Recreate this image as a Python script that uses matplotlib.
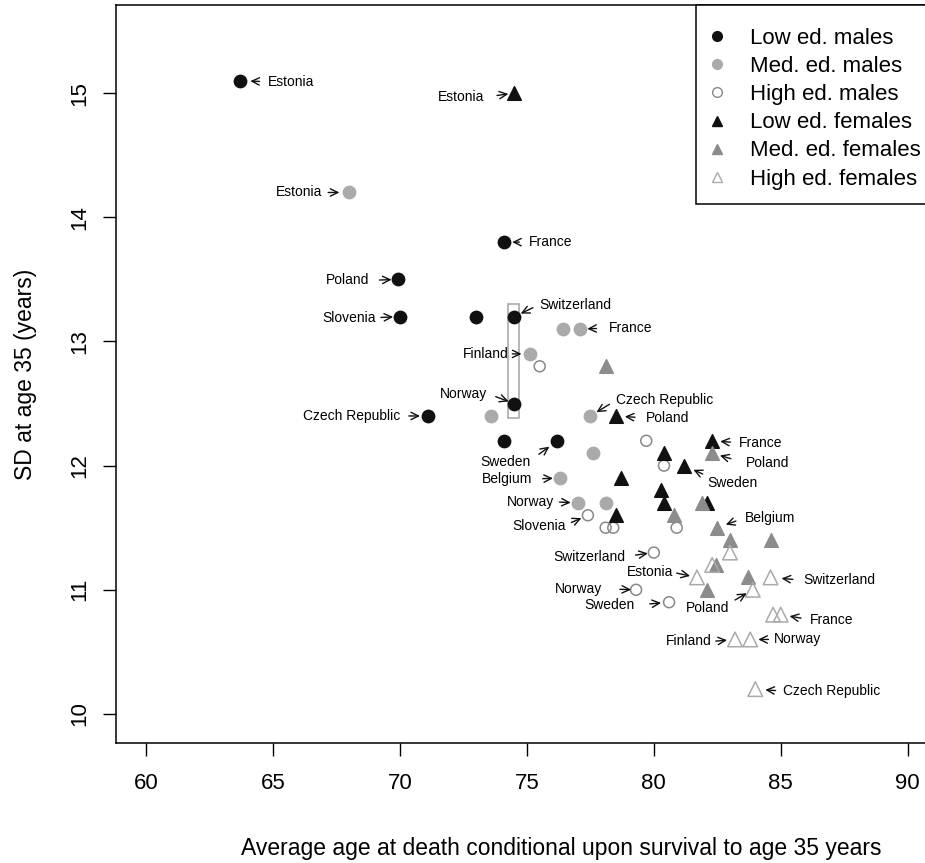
import matplotlib
matplotlib.use("Agg")
import matplotlib.pyplot as plt
from matplotlib.lines import Line2D
from matplotlib.patches import Rectangle

plt.rcParams["font.family"] = ["Liberation Sans", "DejaVu Sans"]

# values (x = average age at death, y = SD at age 35)
low_m_x = [63.7, 74.1, 69.9, 70.0, 73.0, 74.5, 74.5, 71.1, 74.1, 76.2]
low_m_y = [15.1, 13.8, 13.5, 13.2, 13.2, 13.2, 12.5, 12.4, 12.2, 12.2]
low_m_c = ["Estonia", "France", "Poland", "Slovenia", None, "Switzerland",
           "Norway", "Czech Republic", None, "Sweden"]

med_m_x = [68.0, 76.4, 77.1, 75.1, 77.5, 73.6, 77.6, 76.3, 77.0, 78.1]
med_m_y = [14.2, 13.1, 13.1, 12.9, 12.4, 12.4, 12.1, 11.9, 11.7, 11.7]
med_m_c = ["Estonia", None, "France", "Finland", "Czech Republic", None,
           None, "Belgium", "Norway", None]

high_m_x = [75.5, 79.7, 80.4, 77.4, 78.1, 78.4, 80.9, 80.0, 79.3, 80.6]
high_m_y = [12.8, 12.2, 12.0, 11.6, 11.5, 11.5, 11.5, 11.3, 11.0, 10.9]
high_m_c = [None, None, None, "Slovenia", None, None, None, "Switzerland",
            "Norway", "Sweden"]

low_f_x = [74.5, 78.5, 82.3, 80.4, 81.2, 78.7, 80.3, 80.4, 82.1, 78.5]
low_f_y = [15.0, 12.4, 12.2, 12.1, 12.0, 11.9, 11.8, 11.7, 11.7, 11.6]
low_f_c = ["Estonia", "Poland", "France", None, "Sweden", None, None, None,
           None, None]

med_f_x = [78.1, 82.3, 81.9, 80.8, 82.5, 83.0, 84.6, 82.45, 83.7, 82.1]
med_f_y = [12.8, 12.1, 11.7, 11.6, 11.5, 11.4, 11.4, 11.2, 11.1, 11.0]
med_f_c = [None, "Poland", None, None, "Belgium", None, None, None, None, None]

high_f_x = [83.0, 82.3, 81.7, 84.6, 83.9, 84.7, 85.0, 83.2, 83.8, 84.0]
high_f_y = [11.3, 11.2, 11.1, 11.1, 11.0, 10.8, 10.8, 10.6, 10.6, 10.2]
high_f_c = [None, None, "Estonia", "Switzerland", "Poland", None, "France",
            "Finland", "Norway", "Czech Republic"]

group_names = ["Low ed. males", "Med. ed. males", "High ed. males",
               "Low ed. females", "Med. ed. females", "High ed. females"]

# highlighted Swiss/Norwegian low educated males
box_x = [74.25, 74.68]
box_y = [12.38, 13.30]

groups = {
    "low_m": (low_m_x, low_m_y, low_m_c),
    "med_m": (med_m_x, med_m_y, med_m_c),
    "high_m": (high_m_x, high_m_y, high_m_c),
    "low_f": (low_f_x, low_f_y, low_f_c),
    "med_f": (med_f_x, med_f_y, med_f_c),
    "high_f": (high_f_x, high_f_y, high_f_c),
}

# marker styles: (marker, face, edge, size)
styles = {
    "low_m": ("o", "#111111", "#111111", 78),
    "med_m": ("o", "#aaaaaa", "#aaaaaa", 78),
    "high_m": ("o", "none", "#888888", 62),
    "low_f": ("^", "#111111", "#111111", 95),
    "med_f": ("^", "#8c8c8c", "#8c8c8c", 95),
    "high_f": ("^", "none", "#aaaaaa", 110),
}

# label placement in pixels: group, country, dx, dy, gap at text, gap at point, relpos
PX = 0.72
labels = [
    ("low_m", "Estonia", 28, -1, 6, 10, (0, 0.5)),
    ("low_m", "France", 25, 0, 7, 8, (0, 0.5)),
    ("low_m", "Poland", -28, -1, 7, 6, (1, 0.5)),
    ("low_m", "Slovenia", -24, -1, 2, 7, (1, 0.5)),
    ("low_m", "Switzerland", 25, 12, 4, 7, (0, 0.5)),
    ("low_m", "Norway", -27, 10, 6, 6, (1, 0.5)),
    ("low_m", "Czech Republic", -28, 0, 6, 8, (1, 0.5)),
    ("low_m", "Sweden", -27, -21, 7, 10, (1, 0.6)),
    ("med_m", "Estonia", -27, 0, 3, 10, (1, 0.5)),
    ("med_m", "France", 29, 1, 10, 7, (0, 0.5)),
    ("med_m", "Finland", -21, 0, 1, 8, (1, 0.5)),
    ("med_m", "Czech Republic", 26, 16, 5, 7, (0, 0.5)),
    ("med_m", "Belgium", -28, -1, 8, 7, (1, 0.5)),
    ("med_m", "Norway", -24, 1, 3, 7, (1, 0.5)),
    ("high_m", "Slovenia", -22, -11, 3, 7, (1, 0.6)),
    ("high_m", "Switzerland", -29, -4, 8, 6, (1, 0.5)),
    ("high_m", "Norway", -34, 1, 15, 5, (1, 0.5)),
    ("high_m", "Sweden", -34, -3, 12, 8, (1, 0.5)),
    ("low_f", "Estonia", -30, -4, 10, 6, (1, 0.5)),
    ("low_f", "Poland", 30, -2, 8, 9, (0, 0.5)),
    ("low_f", "France", 27, -2, 6, 8, (0, 0.5)),
    ("low_f", "Sweden", 23, -17, 2, 10, (0.1, 0.8)),
    ("med_f", "Poland", 34, -10, 13, 8, (0, 0.5)),
    ("med_f", "Belgium", 28, 10, 7, 9, (0, 0.5)),
    ("high_f", "Estonia", -24, 5, 1, 7, (1, 0.5)),
    ("high_f", "Switzerland", 33, -3, 8, 11, (0, 0.5)),
    ("high_f", "Poland", -24, -18, 4, 7, (1, 0.8)),
    ("high_f", "France", 29, -5, 6, 9, (0, 0.5)),
    ("high_f", "Finland", -23, -2, 1, 8, (1, 0.5)),
    ("high_f", "Norway", 24, 0, 3, 8, (0, 0.5)),
    ("high_f", "Czech Republic", 28, -2, 5, 10, (0, 0.5)),
]

fig = plt.figure(figsize=(9.25, 8.63), dpi=100)
ax = fig.add_axes([116 / 925, 120 / 863, 822 / 925, 738 / 863])

for key, (xs, ys, cs) in groups.items():
    m, fc, ec, s = styles[key]
    ax.scatter(xs, ys, marker=m, s=s, facecolors=fc, edgecolors=ec,
               linewidths=1.1, zorder=3)

ax.add_patch(Rectangle((box_x[0], box_y[0]), box_x[1] - box_x[0],
                       box_y[1] - box_y[0], fill=False, edgecolor="#aaaaaa",
                       linewidth=1.2, zorder=2))

for key, country, dx, dy, ga, gb, rp in labels:
    xs, ys, cs = groups[key]
    i = cs.index(country)
    ax.annotate(country, xy=(xs[i], ys[i]), xytext=(dx * PX, dy * PX),
                textcoords="offset points", ha="left" if dx > 0 else "right",
                va="center", fontsize=10, zorder=4,
                arrowprops=dict(arrowstyle="->,head_length=0.45,head_width=0.22",
                                color="#111111", lw=1.0, relpos=rp,
                                shrinkA=ga * PX, shrinkB=gb * PX,
                                mutation_scale=12))

ax.set_xlim(58.8, 91.2)
ax.set_ylim(9.766, 15.71)
ax.set_xticks([60, 65, 70, 75, 80, 85, 90])
ax.set_yticks([10, 11, 12, 13, 14, 15])
ax.tick_params(direction="out", length=9.5, width=1, labelsize=16)
ax.tick_params(axis="x", pad=12)
ax.tick_params(axis="y", pad=9)
for lbl in ax.get_yticklabels():
    lbl.set_rotation(90)
    lbl.set_va("center")
for sp in ax.spines.values():
    sp.set_linewidth(1.1)
ax.spines["right"].set_visible(False)

ax.set_xlabel("Average age at death conditional upon survival to age 35 years",
              fontsize=16.5)
ax.xaxis.set_label_coords((561 - 116) / 822, -(848 - 743) / 738)
ax.xaxis.label.set_va("center")
ax.set_ylabel("SD at age 35 (years)", fontsize=16.5)
ax.yaxis.set_label_coords((26 - 116) / 822, 0.5)
ax.yaxis.label.set_va("center")

# legend box (runs past the right edge of the picture, as in the source)
ax.add_patch(Rectangle(((696 - 116) / 822, (743 - 204) / 738), 0.4,
                       (204 - 5) / 738, transform=ax.transAxes,
                       facecolor="white", edgecolor="black", linewidth=1.1,
                       clip_on=False, zorder=5))

handles = []
for key, name in zip(groups, group_names):
    m, fc, ec, s = styles[key]
    handles.append(Line2D([], [], linestyle="none", marker=m, markersize=7,
                          markerfacecolor=fc, markeredgecolor=ec,
                          markeredgewidth=1.0, label=name))
leg = ax.legend(handles=handles, loc="upper left",
                bbox_to_anchor=((708 - 116) / 822, (743 - 28) / 738),
                borderaxespad=0, borderpad=0, fontsize=16, frameon=False,
                labelspacing=0.32, handlelength=0.8, handletextpad=1.1)
leg.set_zorder(6)

fig.savefig("out.png", dpi=100)
